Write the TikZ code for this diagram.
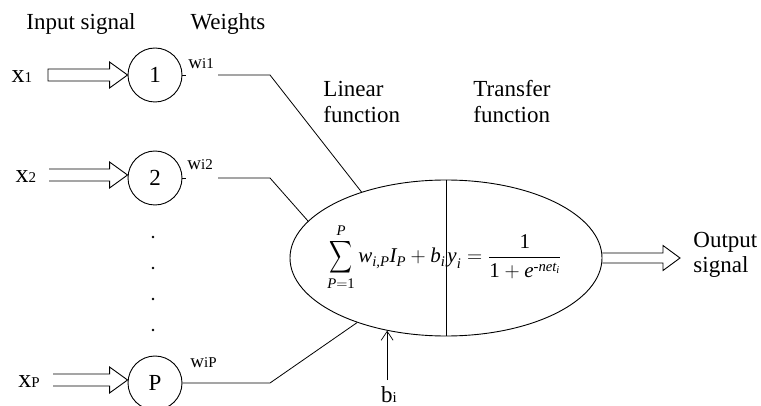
\RequirePackage{fix-cm}
\documentclass[tikz,border=0pt]{standalone}
\usepackage{amsmath}
\usepackage{graphicx}
\usepackage{fontspec}
\setmainfont{Liberation Serif}
\usetikzlibrary{shapes.geometric,arrows.meta,calc}
\newcommand\smallsub[1]{{\fontsize{15}{15}\selectfont #1}}
\newcommand\bigsumsym{\mathop{\vcenter{\hbox{\resizebox*{23pt}{36pt}{$\displaystyle\sum$}}}}\limits}
% #1 start, #2 tip, #3 shaft half width, #4 head half width, #5 head length, #6 closing
\newcommand\hollowarrow[6]{%
  \draw let \p1=(#1), \p2=(#2) in
    (\x1,\y1+#3) -- (\x2-#5,\y1+#3) -- (\x2-#5,\y1+#4) -- (\x2,\y1)
    -- (\x2-#5,\y1-#4) -- (\x2-#5,\y1-#3) -- (\x1,\y1-#3) #6;}
\begin{document}
\begin{tikzpicture}[x=1pt,y=-1pt,line width=0.9pt,
  lbl/.style={inner sep=0pt,font=\fontsize{23}{26}\selectfont},
  xlbl/.style={inner sep=0pt,font=\fontsize{26}{28}\selectfont},
  wlbl/.style={inner sep=0pt,font=\fontsize{19}{20}\selectfont},
  fml/.style={inner sep=0pt,font=\fontsize{21}{25}\selectfont},
  neuron/.style={circle,draw,minimum size=54pt,inner sep=0pt,font=\fontsize{23}{26}\selectfont},
  wline/.style={line width=0.8pt}]
\useasboundingbox (0,0) rectangle (761,406);

% headings
\node[lbl,anchor=base] (tin) at (81,30) {Input signal};
\node[lbl,anchor=base] (tw) at (228,30) {Weights};
\node[lbl,anchor=base west] (tl1) at (323,97) {Linear};
\node[lbl,anchor=base west] (tl2) at (323,123) {function};
\node[lbl,anchor=base west] (tt1) at (473,97) {Transfer};
\node[lbl,anchor=base west] (tt2) at (473,123) {function};
\node[lbl,anchor=base west] (to1) at (693,248) {Output};
\node[lbl,anchor=base west] (to2) at (693,273) {signal};

% input neurons
\node[neuron] (c1) at (155,75) {1};
\node[neuron] (c2) at (155,178) {2};
\node[neuron] (c3) at (155,383) {P};

% input labels
\node[xlbl,anchor=base] (lx1) at (22,83) {x\smallsub{1}};
\node[xlbl,anchor=base] (lx2) at (26,183) {x\smallsub{2}};
\node[xlbl,anchor=base] (lx3) at (29,387) {x\smallsub{P}};

% input arrows
\coordinate (a1) at (48,75);
\coordinate (a2) at (49,175);
\coordinate (a3) at (53,380);
\hollowarrow{a1}{c1.west}{6pt}{13pt}{18pt}{-- cycle}
\hollowarrow{a2}{c2.west}{6pt}{13pt}{18pt}{}
\hollowarrow{a3}{c3.west}{6pt}{13pt}{18pt}{}

% dots
\foreach \yy in {237,268,299,330} \fill (153,\yy) circle (1.3pt);

% weight labels
\node[wlbl,anchor=base west] (w1) at (188,69) {w\smallsub{i1}};
\node[wlbl,anchor=base west] (w2) at (187,170) {w\smallsub{i2}};
\node[wlbl,anchor=base west] (w3) at (190,367) {w\smallsub{iP}};

% summing ellipse
\node[ellipse,draw,minimum width=312pt,minimum height=156pt,inner sep=0pt] (e) at (446,258) {};
\draw (e.north) -- (e.south);

% weight connections
\coordinate (k1a) at (218,75);
\coordinate (k1b) at (270,75);
\coordinate (k2a) at (218,178);
\coordinate (k2b) at (270,178);
\coordinate (k3b) at (270,383);
\draw[wline] (c1.east) -- ++(4,0);
\draw[wline] (c2.east) -- ++(4,0);
\draw[wline] (k1a) -- (k1b) -- (e.142);
\draw[wline] (k2a) -- (k2b) -- (e.165);
\draw[wline] (c3.east) -- (k3b) -- (e.216);

% formulas
\node[fml,anchor=base east] (lf) at (446,263)
  {$\bigsumsym_{\textit{P}=\text{1}}^{\textit{P}}\textit{w}_{\textit{i,P}}\textit{I}_{\textit{P}}+\textit{b}_{\textit{i}}$};
\node[fml,anchor=base west] (rf) at (447,263)
  {$\textit{y}_{\textit{i}}=\dfrac{\text{1}}{\text{1}+\textit{e}^{\textit{-net}_{\textit{i}}}}$};

% bias
\path (e.231.9) coordinate (bend);
\coordinate (bstart) at (bend |- 0,380);
\draw[line width=0.7pt,-{Straight Barb[length=9pt,width=12pt]}] (bstart) -- (bend);
\node[lbl,anchor=base] (lb) at (389,402) {b\smallsub{i}};

% output arrow
\coordinate (outtip) at (680,258);
\hollowarrow{e.east}{outtip}{5pt}{12.5pt}{17pt}{}
\end{tikzpicture}
\end{document}
